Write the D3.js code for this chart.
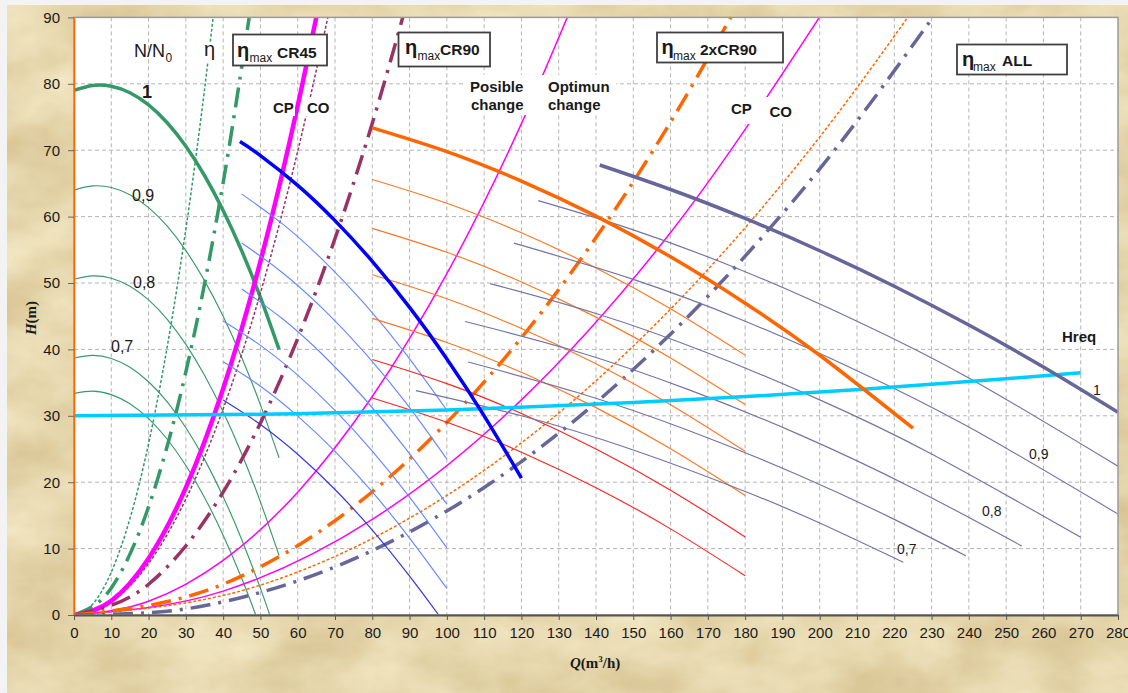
<!DOCTYPE html>
<html>
<head>
<meta charset="utf-8">
<script src="https://cdn.jsdelivr.net/npm/d3@7"></script>
<style>
  html, body { margin: 0; padding: 0; background: #f3f3f3; }
  svg { display: block; }
</style>
</head>
<body>
<svg id="chart" width="1128" height="693"></svg>
<script>
// ---------- axis ticks ----------
const xTicks = [0,10,20,30,40,50,60,70,80,90,100,110,120,130,140,150,160,170,180,190,200,210,220,230,240,250,260,270,280];
const yTicks = [0,10,20,30,40,50,60,70,80,90];

// ---------- one pump (CR45) at speed ratio N/N0 : [Q m3/h, H m] ----------
const green100 = [[0,79.0],[5,79.75],[10,79.63],[15,78.66],[20,76.83],[25,74.14],[30,70.6],[35,66.19],[40,60.93],[45,54.81],[50,47.83],[55,40.0]];
const green090 = [[0,63.99],[5,64.62],[10,64.39],[15,63.3],[20,61.35],[25,58.55],[30,54.88],[35,50.36],[40,44.98],[45,38.74],[50,31.64],[55,23.68]];
const green080 = [[0,50.56],[5,51.07],[10,50.72],[15,49.52],[20,47.45],[25,44.53],[30,40.75],[35,36.11],[40,30.61],[45,24.25],[50,17.03],[55,8.96]];
const green070 = [[0,38.71],[5,39.1],[10,38.64],[15,37.32],[20,35.13],[25,32.09],[30,28.2],[35,23.44],[40,17.82],[45,11.34],[50,4.01],[52.5,0]];
const green065 = [[0,33.38],[5,33.71],[10,33.19],[15,31.81],[20,29.57],[25,26.47],[30,22.51],[35,17.7],[40,12.02],[45,5.49],[48.75,0]];

// ---------- CR45 pair ----------
const blue100 = [[44.5,71.3],[50,69.19],[60,64.7],[70,59.39],[80,53.27],[90,46.33],[100,38.57],[110,30.0],[120,20.6]];
const blue095 = [[45,63.39],[56,58.86],[67,53.33],[78,46.82],[89,39.32],[100,30.83]];
const blue090 = [[45,56.04],[56,51.51],[67,45.98],[78,39.47],[89,31.97],[100,23.48]];
const blue085 = [[45,49.1],[56,44.57],[67,39.04],[78,32.53],[89,25.03],[100,16.7]];
const blue080 = [[40,44.29],[50,40.61],[60,36.12],[70,30.81],[80,24.69],[90,17.75],[100,10.1]];
const blue075 = [[40,38.13],[50,34.45],[60,29.96],[70,24.65],[80,18.53],[90,11.59],[100,4.0]];
const blue070 = [[40,32.38],[50,28.7],[60,24.21],[70,18.9],[80,12.78],[90,5.84],[97.8,0]];

// ---------- CR90 ----------
const orange100 = [[80,73.37],[100,69.79],[120,65.35],[140,60.07],[160,53.94],[180,46.96],[200,39.12],[225,28.13]];
const orange095 = [[80,65.6],[100,62.01],[120,57.56],[140,52.27],[160,46.12],[180,39.13]];
const orange090 = [[80,58.23],[100,54.62],[120,50.16],[140,44.86],[160,38.7],[180,31.69]];
const orange085 = [[80,51.25],[100,47.63],[120,43.15],[140,37.84],[160,31.67],[180,24.65]];
const orange080 = [[80,44.67],[100,41.04],[120,36.55],[140,31.23],[160,25.04],[180,18.01]];
const red075 = [[80,38.48],[100,34.84],[120,30.34],[140,25.0],[160,18.8],[180,11.76]];
const red070 = [[80,32.69],[100,29.03],[120,24.52],[140,19.18],[160,12.97],[180,5.91]];

// ---------- all pumps ----------
const slate100 = [[141,67.77],[160,64.08],[180,59.72],[200,54.86],[220,49.51],[240,43.67],[260,37.35],[280,30.53]];
const slate095 = [[124.5,62.4],[150,58.0],[180,51.7],[210,44.25],[240,35.7],[280,22.4]];
const slate090 = [[118,56.0],[150,50.55],[180,44.25],[210,36.8],[240,28.3],[280,15.2]];
const slate085 = [[111.6,49.9],[140,45.4],[170,39.45],[200,32.4],[230,24.25],[270,11.7]];
const slate080 = [[104.9,44.2],[135,39.65],[165,33.9],[195,27.05],[225,19.1],[254.2,10.4]];
const slate075 = [[105.7,38.1],[135,33.5],[165,27.75],[195,20.9],[220,14.4],[239.2,8.9]];
const slate070 = [[91.7,33.8],[120,30.0],[150,24.85],[180,18.6],[200,13.85],[222.4,7.95]];

// ---------- required head ----------
const hreq = [[0,30],[50,30.22],[100,30.89],[150,32.01],[200,33.57],[250,35.58],[270,36.5]];

// ---------- efficiency / operating parabolas ----------
const etaSingle = [[0,0],[5,1.62],[10,6.46],[15,14.5],[20,25.8],[25,40.4],[30,58.1],[35,79.1],[38,93.3]];
const etaMaxSingle = [[0,0],[10,4.07],[20,16.28],[30,36.6],[40,65.1],[48,93.8]];
const cpCR45 = [[0,0],[10,2.13],[20,8.52],[30,19.17],[40,34.08],[50,53.25],[60,76.7],[66,92.8]];
const coCR45 = [[0,0],[10,1.94],[20,7.76],[30,17.46],[40,31.04],[50,48.5],[60,69.84],[69,92.4]];
const etaMaxCR45 = [[0,0],[20,4.63],[40,18.51],[60,41.65],[80,74.05],[90,93.7]];
const changeCurve = [[0,0],[20,2.06],[40,8.22],[60,18.5],[80,32.9],[100,51.4],[120,74.0],[134,92.3]];
const etaMaxCR90 = [[0,0],[40,4.64],[80,18.56],[120,41.76],[160,74.24],[178,91.9]];
const cp2xCR90 = [[0,0],[40,3.6],[80,14.4],[120,32.4],[160,57.6],[202,91.8]];
const co2xCR90 = [[0,0],[50,4.5],[100,18],[150,40.5],[200,72],[226,91.9]];
const etaMaxAll = [[0,0],[20,0.33],[50,3.4],[80,9.7],[110,19.2],[140,32.0],[170,48.0],[200,67.2],[232,91.3]];

// ---------- layout ----------
const W = 1128, H = 693;
const plot = { left: 74, right: 1118, top: 17.4, bottom: 615 };
const x = d3.scaleLinear().domain([0, 280]).range([plot.left, plot.right]);
const y = d3.scaleLinear().domain([0, 90]).range([plot.bottom, plot.top]);
const SANS = "'Liberation Sans', Arial, sans-serif";
const SERIF = "'Liberation Serif', 'Times New Roman', serif";
const INK = "#1a1a1a";

const svg = d3.select("#chart");
const defs = svg.append("defs");

// parchment texture for the page background
const parch = defs.append("filter").attr("id", "parchment")
  .attr("x", 0).attr("y", 0).attr("width", "100%").attr("height", "100%")
  .attr("color-interpolation-filters", "sRGB");
parch.append("feTurbulence").attr("type", "fractalNoise")
  .attr("baseFrequency", "0.012 0.018").attr("numOctaves", 5).attr("seed", 11);
parch.append("feColorMatrix").attr("type", "matrix")
  .attr("values", "0.14 0 0 0 0.83  0.19 0 0 0 0.745  0.26 0 0 0 0.545  0 0 0 0 1");

defs.append("clipPath").attr("id", "plotClip").append("rect")
  .attr("x", plot.left).attr("y", plot.top)
  .attr("width", plot.right - plot.left).attr("height", plot.bottom - plot.top);

svg.append("rect").attr("width", W).attr("height", H).attr("fill", "#f3f3f3");
svg.append("rect").attr("x", 7).attr("y", 5).attr("width", W - 7).attr("height", H - 5)
  .attr("filter", "url(#parchment)");

// plot area
svg.append("rect").attr("x", plot.left).attr("y", plot.top)
  .attr("width", plot.right - plot.left).attr("height", plot.bottom - plot.top)
  .attr("fill", "#ffffff");

// grid
const grid = svg.append("g").attr("stroke", "#b4b4b4").attr("stroke-width", 1).attr("stroke-dasharray", "4,3");
grid.selectAll("line.v").data(xTicks.slice(1, -1)).join("line")
  .attr("x1", d => x(d)).attr("x2", d => x(d)).attr("y1", plot.top).attr("y2", plot.bottom);
grid.selectAll("line.h").data(yTicks.slice(1, -1)).join("line")
  .attr("x1", plot.left).attr("x2", plot.right).attr("y1", d => y(d)).attr("y2", d => y(d));

// curves
const smooth = d3.line().x(d => x(d[0])).y(d => y(d[1])).curve(d3.curveNatural);
const mono = d3.line().x(d => x(d[0])).y(d => y(d[1])).curve(d3.curveMonotoneX);
const DASHDOT = "20,8,3,8";
const THIN = 1.15;

const series = [
  { data: green065, color: "#3a9a6c", width: THIN, gen: smooth },
  { data: green070, color: "#3a9a6c", width: THIN, gen: smooth },
  { data: green080, color: "#3a9a6c", width: THIN, gen: smooth },
  { data: green090, color: "#3a9a6c", width: THIN, gen: smooth },
  { data: green100, color: "#339966", width: 3.5, gen: smooth },
  { data: etaSingle, color: "#339966", width: 1.5, dash: "3,2", gen: mono },
  { data: etaMaxSingle, color: "#339966", width: 3.5, dash: DASHDOT, gen: mono },
  { data: coCR45, color: "#993366", width: 1.5, dash: "3,2", gen: mono },
  { data: cpCR45, color: "#ff00ff", width: 4.5, gen: mono },
  { data: etaMaxCR45, color: "#993366", width: 3.5, dash: DASHDOT, gen: mono },
  { data: changeCurve, color: "#ff00ff", width: 1.5, gen: mono },
  { data: cp2xCR90, color: "#ff00ff", width: 1.5, gen: mono },
  { data: etaMaxCR90, color: "#ff6600", width: 3.5, dash: DASHDOT, gen: mono },
  { data: co2xCR90, color: "#ff6600", width: 1.5, dash: "3,2", gen: mono },
  { data: etaMaxAll, color: "#666699", width: 3.5, dash: DASHDOT, gen: mono },
  { data: blue095, color: "#6688ff", width: THIN, gen: smooth },
  { data: blue090, color: "#6688ff", width: THIN, gen: smooth },
  { data: blue085, color: "#6688ff", width: THIN, gen: smooth },
  { data: blue080, color: "#6688ff", width: THIN, gen: smooth },
  { data: blue075, color: "#6688ff", width: THIN, gen: smooth },
  { data: blue070, color: "#3333dd", width: THIN, gen: smooth },
  { data: orange095, color: "#ff7722", width: THIN, gen: smooth },
  { data: orange090, color: "#ff7722", width: THIN, gen: smooth },
  { data: orange085, color: "#ff7722", width: THIN, gen: smooth },
  { data: orange080, color: "#ff7722", width: THIN, gen: smooth },
  { data: red075, color: "#ff2222", width: THIN, gen: smooth },
  { data: red070, color: "#ff2222", width: THIN, gen: smooth },
  { data: slate095, color: "#7373a6", width: THIN, gen: smooth },
  { data: slate090, color: "#7373a6", width: THIN, gen: smooth },
  { data: slate085, color: "#7373a6", width: THIN, gen: smooth },
  { data: slate080, color: "#7373a6", width: THIN, gen: smooth },
  { data: slate075, color: "#7373a6", width: THIN, gen: smooth },
  { data: slate070, color: "#7373a6", width: THIN, gen: smooth },
  { data: hreq, color: "#00ccff", width: 3.5, gen: smooth },
  { data: blue100, color: "#0000ff", width: 3.5, gen: smooth },
  { data: orange100, color: "#ff6600", width: 3.5, gen: smooth },
  { data: slate100, color: "#666699", width: 3.5, gen: smooth }
];

const curves = svg.append("g").attr("clip-path", "url(#plotClip)");
curves.selectAll("path").data(series).join("path")
  .attr("d", s => s.gen(s.data))
  .attr("fill", "none")
  .attr("stroke", s => s.color)
  .attr("stroke-width", s => s.width)
  .attr("stroke-dasharray", s => s.dash || null)
  .attr("stroke-linejoin", "round");

// plot frame
svg.append("rect").attr("x", plot.left).attr("y", plot.top)
  .attr("width", plot.right - plot.left).attr("height", plot.bottom - plot.top)
  .attr("fill", "none").attr("stroke", "#9a9a9a").attr("stroke-width", 1.5);

// axes
const yAxis = svg.append("g").attr("transform", `translate(${plot.left},0)`)
  .call(d3.axisLeft(y).tickValues(yTicks).tickSize(6).tickSizeOuter(0).tickPadding(8));
yAxis.select(".domain").attr("stroke", "#ff6600").attr("stroke-width", 1.5);
yAxis.selectAll(".tick line").attr("stroke", "#666");
yAxis.selectAll(".tick text").attr("font-family", SANS).attr("font-size", 15).attr("fill", INK);

const xAxis = svg.append("g").attr("transform", `translate(0,${plot.bottom})`)
  .call(d3.axisBottom(x).tickValues(xTicks).tickSize(5).tickSizeOuter(0).tickPadding(7));
xAxis.select(".domain").attr("stroke", "#555").attr("stroke-width", 2);
xAxis.selectAll(".tick line").attr("stroke", "#555");
xAxis.selectAll(".tick text").attr("font-family", SANS).attr("font-size", 15).attr("fill", INK);

// axis titles
const qTitle = svg.append("text").attr("x", 570).attr("y", 668)
  .attr("font-family", SERIF).attr("font-weight", "bold").attr("font-size", 15).attr("fill", INK);
qTitle.append("tspan").attr("font-style", "italic").text("Q");
qTitle.append("tspan").text("(m");
qTitle.append("tspan").attr("font-size", 9).attr("dy", -6).text("3");
qTitle.append("tspan").attr("dy", 6).text("/h)");

const hTitle = svg.append("text").attr("transform", "translate(35.5,318) rotate(-90)")
  .attr("text-anchor", "middle")
  .attr("font-family", SERIF).attr("font-weight", "bold").attr("font-size", 15).attr("fill", INK);
hTitle.append("tspan").attr("font-style", "italic").text("H");
hTitle.append("tspan").text("(m)");

// white backing behind labels that sit on curves
const backs = [
  [202, 42, 16, 21],
  [271, 99, 24, 17],
  [305, 99, 25, 17],
  [466, 75, 150, 40],
  [727, 97, 70, 27]
];
svg.append("g").selectAll("rect").data(backs).join("rect")
  .attr("x", d => d[0]).attr("y", d => d[1]).attr("width", d => d[2]).attr("height", d => d[3])
  .attr("fill", "#ffffff");

// plain labels
const labels = [
  { t: "1", x: 142, y: 98, size: 18, bold: true },
  { t: "0,9", x: 132, y: 201, size: 16 },
  { t: "0,8", x: 133, y: 288, size: 16 },
  { t: "0,7", x: 111, y: 352, size: 16 },
  { t: "CP", x: 273, y: 113, size: 15, bold: true },
  { t: "CO", x: 307, y: 113, size: 15, bold: true },
  { t: "Posible", x: 470, y: 92, size: 15, bold: true },
  { t: "change", x: 471, y: 110, size: 15, bold: true },
  { t: "Optimun", x: 548, y: 92, size: 15, bold: true },
  { t: "change", x: 548, y: 110, size: 15, bold: true },
  { t: "CP", x: 731, y: 114, size: 15, bold: true },
  { t: "CO", x: 769.5, y: 117, size: 15, bold: true },
  { t: "Hreq", x: 1062, y: 342, size: 15, bold: true },
  { t: "1", x: 1093, y: 395, size: 14 },
  { t: "0,9", x: 1029, y: 459, size: 14 },
  { t: "0,8", x: 982, y: 516, size: 14 },
  { t: "0,7", x: 897, y: 554, size: 14 },
  { t: "η", x: 204, y: 56, size: 20 }
];
svg.append("g").selectAll("text").data(labels).join("text")
  .attr("x", d => d.x).attr("y", d => d.y)
  .attr("font-family", SANS).attr("font-size", d => d.size)
  .attr("font-weight", d => d.bold ? "bold" : "normal")
  .attr("fill", INK).text(d => d.t);

// N/N0
const nn = svg.append("text").attr("font-family", SANS).attr("fill", INK);
nn.append("tspan").attr("x", 134).attr("y", 57).attr("font-size", 18).text("N/N");
nn.append("tspan").attr("x", 165.5).attr("y", 62).attr("font-size", 12).text("0");

// boxed ηmax labels
const boxes = [
  { rect: [233, 34.5, 94, 31], eta: [237, 57], max: [249.5, 61.5], name: "CR45", nx: 277, ny: 58.3 },
  { rect: [398.5, 32.5, 91.5, 34], eta: [405, 54], max: [417.5, 59.5], name: "CR90", nx: 440, ny: 55 },
  { rect: [657, 32.5, 126, 30], eta: [661.5, 54], max: [673, 59.5], name: "2xCR90", nx: 700, ny: 54.5 },
  { rect: [957, 44.5, 110, 30], eta: [962, 66], max: [973, 71], name: "ALL", nx: 1002, ny: 66 }
];
const bx = svg.append("g").selectAll("g").data(boxes).join("g");
bx.append("rect")
  .attr("x", d => d.rect[0]).attr("y", d => d.rect[1])
  .attr("width", d => d.rect[2]).attr("height", d => d.rect[3])
  .attr("fill", "#ffffff").attr("stroke", "#404040").attr("stroke-width", 1.8);
const bt = bx.append("text").attr("font-family", SANS).attr("fill", INK);
bt.append("tspan").attr("x", d => d.eta[0]).attr("y", d => d.eta[1])
  .attr("font-size", 20).attr("font-weight", "bold").text("η");
bt.append("tspan").attr("x", d => d.max[0]).attr("y", d => d.max[1])
  .attr("font-size", 12).text("max");
bt.append("tspan").attr("x", d => d.nx).attr("y", d => d.ny)
  .attr("font-size", 15.5).attr("font-weight", "bold").text(d => d.name);
</script>
</body>
</html>
